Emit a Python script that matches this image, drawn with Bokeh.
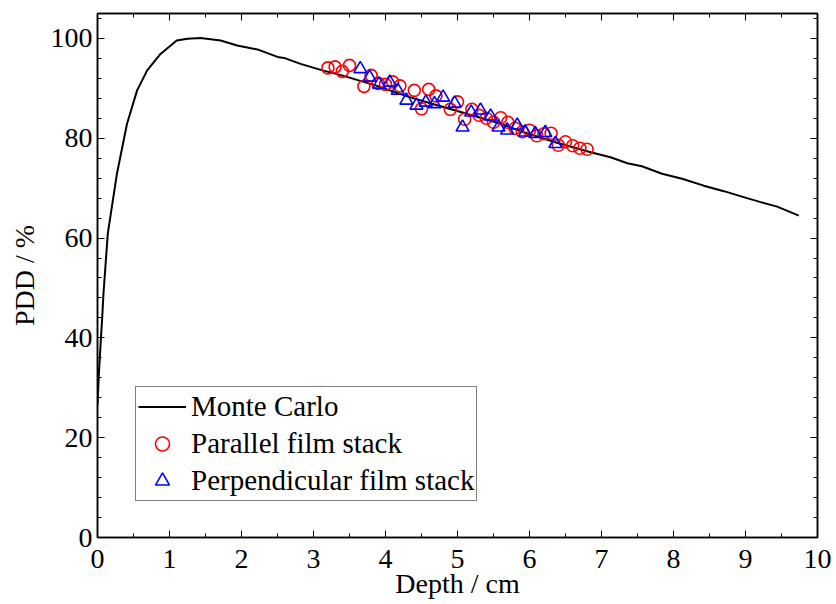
from bokeh.plotting import figure
from bokeh.models import Range1d, LinearAxis, Legend, LegendItem, SingleIntervalTicker
from bokeh.embed import file_html
from bokeh.resources import INLINE

# Monte Carlo depth-dose curve
mc_depth = [0.0, 0.02, 0.04, 0.065, 0.083, 0.143, 0.27, 0.41, 0.55, 0.69, 0.875,
            1.1, 1.25, 1.43, 1.71, 1.94, 2.22, 2.5, 2.59, 2.82, 3.1, 3.42, 3.88, 4.3,
            4.67, 5.13, 5.6, 5.92, 6.38, 6.85, 7.125, 7.36, 7.56, 7.84, 8.12,
            8.42, 8.7, 8.95, 9.21, 9.44, 9.74]
mc_pdd = [26.5, 33.0, 38.0, 44.0, 48.9, 60.9, 72.9, 82.9, 89.6, 93.6, 96.9,
          99.6, 99.95, 100.1, 99.6, 98.6, 97.8, 96.3, 96.1, 94.9, 93.7, 92.5, 90.5, 88.4,
          86.8, 84.9, 82.9, 81.2, 79.1, 77.2, 76.2, 75.0, 74.4, 72.9, 71.9,
          70.5, 69.4, 68.3, 67.2, 66.3, 64.5]

# Parallel film stack measurements
par_depth = [3.2, 3.3, 3.4, 3.5, 3.7, 3.8, 3.9, 4.0, 4.1, 4.2, 4.4, 4.5, 4.6,
             4.7, 4.9, 5.0, 5.1, 5.2, 5.3, 5.4, 5.5, 5.6, 5.7, 5.8, 5.9, 6.0,
             6.1, 6.2, 6.3, 6.4, 6.5, 6.6, 6.7, 6.8]
par_pdd = [94.1, 94.3, 93.4, 94.6, 90.4, 92.6, 91.0, 90.8, 91.3, 90.5, 89.6,
           85.9, 89.8, 88.5, 85.8, 87.3, 83.8, 85.8, 84.6, 84.0, 83.2, 84.1,
           83.2, 82.0, 81.3, 81.6, 80.5, 80.9, 81.0, 78.6, 79.3, 78.5, 78.0, 77.8]

# Perpendicular film stack measurements
perp_depth = [3.65, 3.78, 3.91, 4.06, 4.17, 4.29, 4.43, 4.56, 4.68, 4.80, 4.96,
              5.07, 5.19, 5.32, 5.46, 5.57, 5.69, 5.83, 5.94, 6.08, 6.22, 6.36]
perp_pdd = [93.9, 92.2, 90.8, 91.2, 89.6, 87.6, 86.6, 87.2, 86.9, 88.2, 87.0,
            82.2, 85.2, 85.6, 84.4, 82.2, 81.6, 82.6, 81.2, 80.9, 81.1, 78.9]

FONT = "Liberation Serif"
FS = "28px"

p = figure(width=836, height=604, output_backend="svg", toolbar_location=None,
           x_range=Range1d(0, 10), y_range=Range1d(0, 105),
           min_border_left=97, min_border_right=19, min_border_top=13,
           min_border_bottom=67)
p.background_fill_color = "white"
p.border_fill_color = "white"
p.outline_line_color = "black"
p.outline_line_width = 1.5
p.grid.visible = False

p.xaxis.ticker = SingleIntervalTicker(interval=1, num_minor_ticks=2)
p.yaxis.ticker = SingleIntervalTicker(interval=20, num_minor_ticks=5)
p.xaxis.axis_label = "Depth / cm"
p.yaxis.axis_label = "PDD / %"


def style_axis(ax, labels=True):
    ax.axis_line_color = "black"
    ax.axis_line_width = 1.5
    ax.major_tick_line_color = "black"
    ax.minor_tick_line_color = "black"
    ax.major_tick_in = 7
    ax.major_tick_out = 0
    ax.minor_tick_in = 4
    ax.minor_tick_out = 0
    ax.major_label_text_font = FONT
    ax.major_label_text_font_style = "normal"
    ax.axis_label_text_font = FONT
    ax.axis_label_text_font_style = "normal"
    ax.axis_label_text_color = "black"
    ax.axis_label_text_font_size = FS
    if labels:
        ax.major_label_text_color = "black"
        ax.major_label_text_font_size = FS
    else:
        # tick marks only, no labels
        ax.major_label_text_color = None
        ax.major_label_text_font_size = "1px"
        ax.major_label_standoff = 0


for ax in p.xaxis + p.yaxis:
    style_axis(ax)
p.xaxis.major_label_standoff = 12
p.xaxis.major_label_text_line_height = 1.0
p.xaxis.axis_label_text_line_height = 1.0
p.xaxis.axis_label_standoff = -3
p.yaxis.major_label_standoff = 5
p.yaxis.axis_label_standoff = 8

# mirrored tick marks on the top and right edges
top = LinearAxis(ticker=SingleIntervalTicker(interval=1, num_minor_ticks=2))
right = LinearAxis(ticker=SingleIntervalTicker(interval=20, num_minor_ticks=5))
style_axis(top, labels=False)
style_axis(right, labels=False)
p.add_layout(top, "above")
p.add_layout(right, "right")

mc = p.line(mc_depth, mc_pdd, line_color="black", line_width=2)
par = p.scatter(par_depth, par_pdd, marker="circle", size=12, fill_color=None,
                line_color="#ff0000", line_width=1.6)
perp = p.scatter(perp_depth, perp_pdd, marker="triangle", size=13, fill_color=None,
                 line_color="#0000ff", line_width=1.6)

legend = Legend(items=[
    LegendItem(label="Monte Carlo", renderers=[mc]),
    LegendItem(label="Parallel film stack", renderers=[par]),
    LegendItem(label="Perpendicular film stack", renderers=[perp]),
], location=(38, 36))
legend.label_text_font = FONT
legend.label_text_font_style = "normal"
legend.label_text_font_size = "29px"
legend.label_text_color = "black"
legend.glyph_width = 48
legend.glyph_height = 35
legend.label_height = 35
legend.spacing = 2
legend.padding = 2
legend.margin = 0
legend.label_standoff = 5
legend.border_line_color = "black"
legend.border_line_width = 1
legend.background_fill_alpha = 1
p.add_layout(legend, "center")

open("out.html", "w").write(file_html(p, INLINE))
